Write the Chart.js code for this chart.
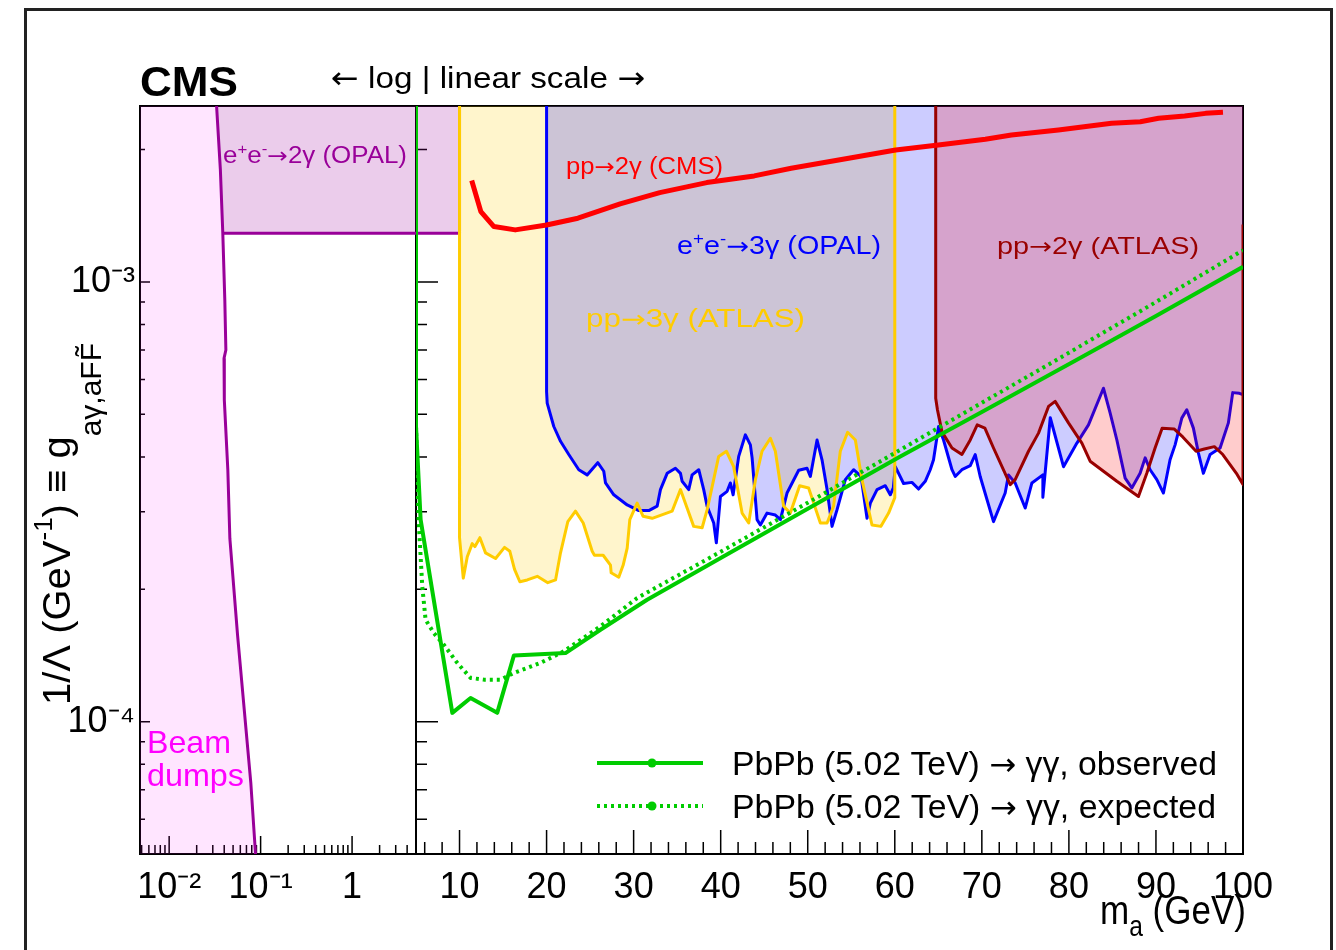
<!DOCTYPE html>
<html>
<head>
<meta charset="utf-8">
<script src="https://cdn.jsdelivr.net/npm/chart.js@4.4.1/dist/chart.umd.min.js"></script>
<style>
  html, body { margin: 0; padding: 0; background: #fff; }
  canvas { display: block; }
</style>
</head>
<body>
<canvas id="limits" width="1336" height="950"></canvas>
<script>
// axis ranges
const yMin = 5e-5;
const yMax = 2.512e-3;
const logRange = [0.0048, 5];
const linRange = [5, 100];

// tick labels
const logTickVals = [0.01, 0.1, 1];
const logTickText = ['10\u207B\u00B2', '10\u207B\u00B9', '1'];
const linTickVals = [10, 20, 30, 40, 50, 60, 70, 80, 90, 100];
const yTickVals = [1e-4, 1e-3];
const yTickText = ['10\u207B\u2074', '10\u207B\u00B3'];

// beam dump exclusion boundary [m_a (GeV), 1/Lambda (GeV^-1)]
const beamDump = [
  [0.0330, 2.512e-3], [0.0363, 1.80e-3], [0.0386, 1.29e-3], [0.0406, 9.10e-4],
  [0.0417, 7.00e-4], [0.0398, 6.70e-4], [0.0401, 5.39e-4], [0.0438, 3.74e-4],
  [0.0461, 2.61e-4], [0.0560, 1.57e-4], [0.0781, 7.27e-5], [0.0880, 5.0e-5]
];

// e+e- -> 2gamma (OPAL): flat limit up to 10 GeV
const opal2gLevel = 1.29e-3;
const opal2gEnd = 10;

// pp -> 3gamma (ATLAS)
const atlas3g = [
  [10, 2.512e-3], [10, 2.62e-4], [10.43, 2.12e-4], [10.89, 2.37e-4], [11.46, 2.54e-4],
  [11.76, 2.50e-4], [12.34, 2.62e-4], [12.99, 2.42e-4], [14.14, 2.35e-4], [15.17, 2.49e-4],
  [15.78, 2.44e-4], [16.32, 2.22e-4], [16.93, 2.08e-4], [17.78, 2.10e-4], [18.93, 2.14e-4],
  [20.14, 2.07e-4], [21.03, 2.10e-4], [21.60, 2.42e-4], [22.44, 2.85e-4], [23.32, 3.01e-4],
  [24.21, 2.83e-4], [25.24, 2.44e-4], [25.50, 2.39e-4], [26.50, 2.39e-4], [27.34, 2.27e-4],
  [27.42, 2.18e-4], [28.29, 2.13e-4], [28.80, 2.27e-4], [29.26, 2.48e-4], [29.56, 2.88e-4],
  [30.40, 3.14e-4], [31.09, 2.93e-4], [32.13, 2.90e-4], [34.42, 3.01e-4], [35.38, 3.37e-4],
  [36.14, 3.06e-4], [36.90, 2.78e-4], [37.87, 2.76e-4], [38.44, 3.03e-4], [39.77, 4.01e-4],
  [40.66, 4.12e-4], [41.49, 3.80e-4], [42.46, 2.98e-4], [43.22, 2.83e-4], [43.99, 3.55e-4],
  [44.75, 4.12e-4], [45.71, 4.41e-4], [46.28, 4.12e-4], [47.23, 3.09e-4], [48.00, 2.98e-4],
  [49.07, 3.44e-4], [50.10, 3.40e-4], [51.45, 2.83e-4], [52.22, 2.83e-4], [52.97, 3.09e-4],
  [53.74, 4.12e-4], [54.58, 4.55e-4], [55.47, 4.37e-4], [56.23, 3.55e-4], [57.38, 2.80e-4],
  [58.41, 2.78e-4], [59.29, 2.98e-4], [60, 3.23e-4], [60, 2.512e-3]
];

// e+e- -> 3gamma (OPAL)
const opal3g = [
  [20, 2.512e-3], [20, 5.63e-4], [20.07, 5.30e-4], [20.83, 4.69e-4], [21.60, 4.34e-4],
  [22.55, 4.05e-4], [23.70, 3.74e-4], [24.66, 3.64e-4], [25.88, 3.88e-4], [26.57, 3.71e-4],
  [26.77, 3.49e-4], [27.72, 3.28e-4], [29.26, 3.11e-4], [30.59, 3.02e-4], [31.74, 3.02e-4],
  [32.70, 3.09e-4], [33.08, 3.37e-4], [33.85, 3.67e-4], [34.80, 3.77e-4], [35.38, 3.67e-4],
  [35.57, 3.52e-4], [36.33, 3.37e-4], [36.72, 3.64e-4], [37.48, 3.74e-4], [38.05, 3.37e-4],
  [38.44, 3.09e-4], [39.20, 2.83e-4], [39.50, 2.55e-4], [39.97, 3.25e-4], [40.74, 3.34e-4],
  [41.11, 3.49e-4], [41.43, 3.28e-4], [42.07, 4.01e-4], [42.84, 4.49e-4], [43.41, 4.26e-4],
  [43.61, 3.98e-4], [44.18, 2.88e-4], [44.56, 2.80e-4], [45.33, 2.98e-4], [46.28, 2.95e-4],
  [46.86, 2.88e-4], [47.62, 3.31e-4], [48.96, 3.73e-4], [49.92, 3.77e-4], [50.30, 3.61e-4],
  [51.07, 4.37e-4], [51.64, 3.94e-4], [52.22, 3.37e-4], [52.79, 2.78e-4], [53.36, 3.03e-4],
  [54.32, 3.55e-4], [55.27, 3.74e-4], [56.12, 3.61e-4], [56.81, 2.90e-4], [57.19, 3.14e-4],
  [57.96, 3.37e-4], [58.91, 3.44e-4], [59.48, 3.28e-4], [59.83, 3.40e-4], [60.06, 3.80e-4],
  [61.01, 3.48e-4], [61.97, 3.50e-4], [62.73, 3.38e-4], [63.50, 3.52e-4], [64.07, 3.74e-4],
  [64.45, 3.94e-4], [65.03, 4.69e-4], [65.60, 4.37e-4], [66.57, 3.74e-4], [66.94, 3.61e-4],
  [67.71, 3.74e-4], [68.67, 3.82e-4], [69.24, 4.05e-4], [69.81, 3.61e-4], [71.34, 2.85e-4],
  [72.68, 3.31e-4], [73.06, 3.64e-4], [73.83, 3.49e-4], [74.98, 3.06e-4], [75.75, 3.49e-4],
  [77.01, 3.64e-4], [77.01, 3.24e-4], [77.86, 4.91e-4], [79.38, 3.80e-4], [80.92, 4.30e-4],
  [82.25, 4.73e-4], [83.97, 5.73e-4], [84.74, 5.03e-4], [85.51, 4.37e-4], [86.46, 3.58e-4],
  [87.23, 3.40e-4], [88.18, 3.67e-4], [88.76, 3.98e-4], [89.33, 3.74e-4], [90.10, 3.55e-4],
  [90.86, 3.31e-4], [91.62, 3.94e-4], [92.20, 4.26e-4], [92.97, 4.90e-4], [93.54, 5.12e-4],
  [94.30, 4.65e-4], [94.88, 4.08e-4], [95.45, 3.67e-4], [96.22, 4.05e-4], [97.37, 4.19e-4],
  [98.32, 4.78e-4], [98.82, 5.60e-4], [99.58, 5.58e-4], [100, 5.54e-4], [100, 2.512e-3]
];

// pp -> 2gamma (ATLAS)
const atlas2g = [
  [64.7, 2.512e-3], [64.7, 5.44e-4], [64.9, 5.12e-4], [65.42, 4.56e-4], [66.57, 4.19e-4],
  [67.71, 4.05e-4], [68.67, 4.37e-4], [69.47, 4.73e-4], [70.35, 4.65e-4], [71.34, 4.19e-4],
  [73.26, 3.46e-4], [73.83, 3.55e-4], [75.36, 4.12e-4], [76.51, 4.53e-4], [77.66, 5.21e-4],
  [78.42, 5.35e-4], [79.95, 4.78e-4], [81.49, 4.30e-4], [82.44, 3.91e-4], [85.51, 3.52e-4],
  [87.99, 3.25e-4], [88.95, 3.67e-4], [89.90, 4.19e-4], [90.71, 4.65e-4], [92.08, 4.63e-4],
  [93.08, 4.44e-4], [94.61, 4.12e-4], [95.56, 4.17e-4], [96.71, 4.22e-4], [97.68, 4.05e-4],
  [99.24, 3.67e-4], [100, 3.46e-4], [100, 1.35e-3]
];

// pp -> 2gamma (CMS)
const cms2g = [
  [11.4, 1.70e-3], [12.45, 1.445e-3], [13.95, 1.336e-3], [16.4, 1.313e-3], [20.0, 1.347e-3],
  [23.6, 1.396e-3], [28.45, 1.504e-3], [33.0, 1.596e-3], [38.4, 1.682e-3], [43.85, 1.742e-3],
  [48.1, 1.813e-3], [54.7, 1.910e-3], [60.1, 1.995e-3], [65.0, 2.048e-3], [70.4, 2.110e-3],
  [73.4, 2.158e-3], [78.8, 2.215e-3], [84.9, 2.295e-3], [88.2, 2.314e-3], [90.3, 2.355e-3],
  [93.3, 2.384e-3], [95.7, 2.417e-3], [97.7, 2.430e-3]
];

// PbPb -> gamma gamma, this result
const pbpbObserved = [
  [5, 2.512e-3], [5, 4.7e-4], [5.53, 2.88e-4], [9.17, 1.047e-4], [11.27, 1.132e-4],
  [14.33, 1.047e-4], [16.24, 1.413e-4], [22.17, 1.432e-4], [26.19, 1.618e-4], [31.55, 1.893e-4],
  [40, 2.355e-4], [50, 3.05e-4], [60.63, 4.009e-4], [70, 5.06e-4], [80.92, 6.65e-4],
  [90, 8.36e-4], [100, 1.082e-3]
];
const pbpbExpected = [
  [5, 4.7e-4], [5.3, 2.88e-4], [5.72, 2.03e-4], [6.10, 1.705e-4], [7.05, 1.59e-4],
  [8.2, 1.496e-4], [9.74, 1.36e-4], [11.27, 1.257e-4], [12.79, 1.246e-4], [14.71, 1.246e-4],
  [16.24, 1.29e-4], [19.3, 1.36e-4], [21.98, 1.445e-4], [26.19, 1.647e-4], [30.4, 1.91e-4],
  [40, 2.434e-4], [50, 3.146e-4], [60.63, 4.15e-4], [79.77, 6.86e-4], [90, 9.0e-4],
  [100, 1.18e-3]
];

const FONT = "'Liberation Sans', Arial, sans-serif";
const ARROWFONT = "'DejaVu Sans', sans-serif";
const GREEN = '#00cc00';
const RARROW = '\u2192';

const pts = arr => arr.map(([x, y]) => ({ x, y }));

function area(data, axis, color) {
  return { data: pts(data), xAxisID: axis, yAxisID: 'y', fill: 'shape',
    backgroundColor: color, borderColor: 'rgba(0,0,0,0)', borderWidth: 1, pointRadius: 0 };
}
function curve(data, axis, color, width, dash) {
  return { data: pts(data), xAxisID: axis, yAxisID: 'y', fill: false,
    borderColor: color, borderWidth: width, borderDash: dash || [], pointRadius: 0 };
}

// beam dump curve above the OPAL 2gamma level closes that box on the left
const opal2Left = beamDump.filter(p => p[1] >= opal2gLevel).concat([[logRange[1], opal2gLevel], [logRange[1], yMax]]);

// listed bottom layer first
const layers = [
  area(beamDump.concat([[logRange[0], yMin], [logRange[0], yMax]]), 'xlog', 'rgba(255,0,255,0.1)'),
  area(opal2Left, 'xlog', 'rgba(153,0,153,0.2)'),
  area([[5, opal2gLevel], [opal2gEnd, opal2gLevel], [opal2gEnd, yMax], [5, yMax]], 'xlin', 'rgba(153,0,153,0.2)'),
  area(atlas3g, 'xlin', 'rgba(255,204,0,0.2)'),
  area(opal3g, 'xlin', 'rgba(0,0,255,0.2)'),
  curve(beamDump, 'xlog', '#990099', 3),
  curve([[beamDump[2][0], opal2gLevel], [logRange[1], opal2gLevel]], 'xlog', '#990099', 3),
  curve([[5, opal2gLevel], [opal2gEnd, opal2gLevel], [opal2gEnd, yMax]], 'xlin', '#990099', 3),
  curve(opal3g.slice(0, -1), 'xlin', '#0000ff', 3),
  area(atlas2g.concat([[100, yMax]]), 'xlin', 'rgba(255,0,0,0.2)'),
  curve(atlas3g, 'xlin', '#ffcc00', 3),
  curve(atlas2g, 'xlin', '#990000', 3),
  curve(cms2g, 'xlin', '#ff0000', 5),
  curve(pbpbExpected, 'xlin', GREEN, 4, [3, 4]),
  curve(pbpbObserved, 'xlin', GREEN, 4)
];
layers.forEach((d, i) => { d.order = layers.length - i; });

// parts: [text, size factor, baseline shift in em, font family]
function richText(ctx, parts, x, y, size, width, color, opts) {
  opts = opts || {};
  const weight = opts.bold ? 'bold ' : '';
  const fontOf = (f, fam) => weight + (size * f).toFixed(2) + 'px ' + (fam || FONT);
  let natural = 0;
  const widths = parts.map(([t, f, dy, fam]) => {
    ctx.font = fontOf(f, fam);
    const w = ctx.measureText(t).width;
    natural += w;
    return w;
  });
  const sx = width ? width / natural : 1;
  ctx.save();
  ctx.translate(x, y);
  if (opts.rotate) ctx.rotate(opts.rotate);
  ctx.scale(sx, 1);
  ctx.fillStyle = color;
  ctx.textAlign = 'left';
  ctx.textBaseline = 'alphabetic';
  let cx = opts.align === 'right' ? -natural : 0;
  parts.forEach(([t, f, dy, fam], i) => {
    ctx.font = fontOf(f, fam);
    ctx.fillText(t, cx, (dy || 0) * size);
    cx += widths[i];
  });
  ctx.restore();
}

// "pp->Ng (EXP)" style label
function processLabel(left, right) {
  return [[left, 1], [RARROW, 0.95, 0, ARROWFONT], [right, 1]];
}
function eeLabel(right) {
  return [['e', 1], ['+', 0.65, -0.4], ['e', 1], ['-', 0.65, -0.4], [RARROW, 0.95, 0, ARROWFONT], [right, 1]];
}

const framePlugin = {
  id: 'frame',
  beforeDraw(chart) {
    const ctx = chart.ctx;
    ctx.save();
    ctx.fillStyle = '#fff';
    ctx.fillRect(0, 0, chart.width, chart.height);
    ctx.strokeStyle = '#222';
    ctx.lineWidth = 3;
    ctx.strokeRect(25.5, 9.5, 1306, 1000);
    ctx.restore();
  },
  beforeDatasetsDraw(chart) {
    const ctx = chart.ctx;
    const a = chart.chartArea;
    const xl = chart.scales.xlog, xn = chart.scales.xlin, ys = chart.scales.y;
    ctx.save();
    ctx.strokeStyle = '#000';
    ctx.lineWidth = 2;
    ctx.strokeRect(a.left, a.top, a.right - a.left, a.bottom - a.top);
    const split = xn.left;
    ctx.beginPath();
    ctx.moveTo(split, a.top);
    ctx.lineTo(split, a.bottom);
    ctx.stroke();

    ctx.lineWidth = 1.5;
    ctx.beginPath();
    // y ticks on the left axis and on the log/linear divider
    for (let e = -5; e <= -3; e++) {
      for (let k = 1; k <= 9; k++) {
        const v = k * Math.pow(10, e);
        if (v <= yMin || v >= yMax) continue;
        const py = ys.getPixelForValue(v);
        const major = k === 1;
        ctx.moveTo(a.left, py); ctx.lineTo(a.left + (major ? 10 : 5), py);
        ctx.moveTo(split, py); ctx.lineTo(split + (major ? 22 : 11), py);
      }
    }
    // log mass ticks
    for (let e = -3; e <= 0; e++) {
      for (let k = 1; k <= 9; k++) {
        const v = k * Math.pow(10, e);
        if (v <= logRange[0] || v >= logRange[1]) continue;
        const px = xl.getPixelForValue(v);
        ctx.moveTo(px, a.bottom); ctx.lineTo(px, a.bottom - (k === 1 ? 18 : 9));
      }
    }
    // linear mass ticks
    for (let v = 6; v < 100; v += 2) {
      const px = xn.getPixelForValue(v);
      ctx.moveTo(px, a.bottom); ctx.lineTo(px, a.bottom - (v % 10 === 0 ? 24 : 12));
    }
    ctx.stroke();
    ctx.restore();
  },
  afterDatasetsDraw(chart) {
    const ctx = chart.ctx;
    // labels of the exclusion regions
    richText(ctx, eeLabel('2\u03B3 (OPAL)'), 223, 163, 23, 184, '#990099');
    richText(ctx, processLabel('pp', '2\u03B3 (CMS)'), 566, 174, 23, 157, '#ff0000');
    richText(ctx, eeLabel('3\u03B3 (OPAL)'), 677, 254, 25, 204, '#0000ff');
    richText(ctx, processLabel('pp', '3\u03B3 (ATLAS)'), 586, 327, 25, 219, '#ffcc00');
    richText(ctx, processLabel('pp', '2\u03B3 (ATLAS)'), 997, 254, 24, 202, '#990000');
    richText(ctx, [['Beam', 1]], 147, 753, 32, 84, '#ff00ff');
    richText(ctx, [['dumps', 1]], 147, 786, 32, 97, '#ff00ff');

    // legend
    const rows = [
      { y: 763, dash: [], label: 'observed', w: 485 },
      { y: 806, dash: [3, 4], label: 'expected', w: 484 }
    ];
    rows.forEach(r => {
      ctx.save();
      ctx.strokeStyle = GREEN;
      ctx.lineWidth = 4;
      ctx.setLineDash(r.dash);
      ctx.beginPath();
      ctx.moveTo(597, r.y);
      ctx.lineTo(703, r.y);
      ctx.stroke();
      ctx.setLineDash([]);
      ctx.fillStyle = GREEN;
      ctx.beginPath();
      ctx.arc(652, r.y, 4.5, 0, Math.PI * 2);
      ctx.fill();
      ctx.restore();
      richText(ctx, [['PbPb (5.02 TeV) ', 1], [RARROW, 0.95, 0, ARROWFONT], [' \u03B3\u03B3, ' + r.label, 1]],
        732, r.y + 12, 33, r.w, '#000');
    });

    // headers and axis titles
    richText(ctx, [['CMS', 1]], 140, 96, 42, 98, '#000', { bold: true });
    richText(ctx, [['\u2190', 1, 0, ARROWFONT], [' log | linear scale ', 1], [RARROW, 1, 0, ARROWFONT]], 331, 88, 30, 314, '#000');
    richText(ctx, [['m', 1], ['a', 0.7, 0.3], [' (GeV)', 1]], 1246, 924, 41, 146, '#000', { align: 'right' });
    richText(ctx, [['1/\u039B (GeV', 1], ['-1', 0.65, -0.45], [') \u2261 g', 1], ['a\u03B3,aFF\u0303', 0.75, 0.8]],
      70, 705, 39, 362, '#000', { rotate: -Math.PI / 2 });
  }
};

const tickFont = { family: FONT, size: 36 };

new Chart(document.getElementById('limits'), {
  type: 'line',
  data: { datasets: layers },
  options: {
    responsive: false,
    animation: false,
    devicePixelRatio: 1,
    layout: { padding: { left: 0, right: 93, top: 106, bottom: 0 } },
    plugins: { legend: { display: false }, tooltip: { enabled: false } },
    elements: { line: { tension: 0, borderJoinStyle: 'round' } },
    scales: {
      xlog: {
        type: 'logarithmic', position: 'bottom', stack: 'mass', stackWeight: 276,
        min: logRange[0], max: logRange[1],
        grid: { display: false }, border: { display: false },
        ticks: { font: tickFont, color: '#000', padding: 4, autoSkip: false, maxRotation: 0,
          callback: v => logTickText[logTickVals.indexOf(v)] },
        afterBuildTicks: s => { s.ticks = logTickVals.map(v => ({ value: v })); },
        afterFit: s => { s.height = 96; }
      },
      xlin: {
        type: 'linear', position: 'bottom', stack: 'mass', stackWeight: 827,
        min: linRange[0], max: linRange[1],
        grid: { display: false }, border: { display: false },
        ticks: { font: tickFont, color: '#000', padding: 4, autoSkip: false, maxRotation: 0,
          callback: v => String(v) },
        afterBuildTicks: s => { s.ticks = linTickVals.map(v => ({ value: v })); },
        afterFit: s => { s.height = 96; }
      },
      y: {
        type: 'logarithmic', position: 'left',
        min: yMin, max: yMax,
        grid: { display: false }, border: { display: false },
        ticks: { font: tickFont, color: '#000', padding: -3, autoSkip: false,
          callback: v => yTickText[yTickVals.indexOf(v)] },
        afterBuildTicks: s => { s.ticks = yTickVals.map(v => ({ value: v })); },
        afterFit: s => { s.width = 140; }
      }
    }
  },
  plugins: [framePlugin]
});
</script>
</body>
</html>
